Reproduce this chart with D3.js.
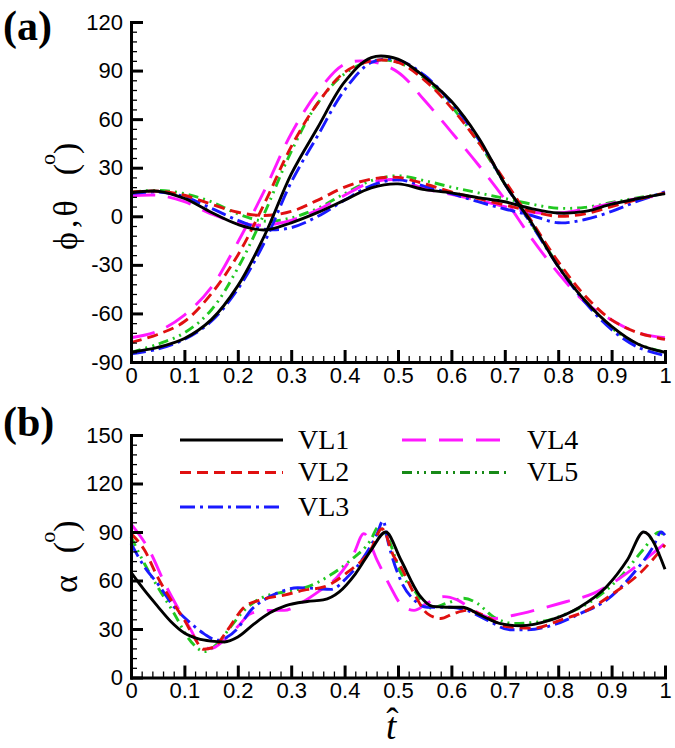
<!DOCTYPE html>
<html>
<head>
<meta charset="utf-8">
<script src="https://cdn.jsdelivr.net/npm/d3@7"></script>
<style>
  html, body { margin: 0; padding: 0; background: #fff; }
  svg { display: block; }
</style>
</head>
<body>
<svg id="chart" width="675" height="748"></svg>
<script>
// ---------------- DATA ----------------
const seriesNames = ["VL1", "VL2", "VL3", "VL4", "VL5"];

const tTop = [0,0.05,0.1,0.15,0.2,0.25,0.3,0.35,0.4,0.45,0.5,0.55,0.6,0.65,0.7,0.75,0.8,0.85,0.9,0.95,1];

// phi (large amplitude) curves, panel (a)
const phiVL1 = [-84,-81,-75.5,-64,-43,-12,26,55,83,98,97,86,71,49,20,-4,-31,-52,-68,-79,-84];
const phiVL2 = [-78,-73,-65,-48,-24,8,43,70,89,96,95,84,67,46,22,-3,-28,-49,-64,-72,-76];
const phiVL3 = [-85,-82,-76,-65,-45,-16,21,50,78,95,96.5,87,70,48,20,-5,-31,-53,-70,-81,-86];
const phiVL4 = [-75,-71,-61,-44,-16,16,51,77,94,95.5,89,71.5,52,32,10.5,-13.5,-35,-53,-64,-72,-75];
const phiVL5 = [-84,-79,-72,-58,-32,2,40,70,88,96,95,85,68,46,20,-5,-30,-52,-69,-79,-84];

// theta (small amplitude) curves, panel (a)
const thetaVL1 = [14.5,15.5,11,2.5,-5,-8.5,-4,2.4,10,17.6,20,16.5,14.5,11.5,9,4.7,2,3,7.5,11,14];
const thetaVL2 = [15,15.5,13,7.5,2.5,0.5,3,10,18,23,24,20,15,11,7,3,0,1.5,6,10.5,14.5];
const thetaVL3 = [14,15,12,5,-2.5,-8,-7,0,10,19,22.5,18.5,14,9,4.5,0.5,-4,-2,3,9.5,15];
const thetaVL4 = [12.5,13,9,1.5,-4,-5.5,-2.5,4,13,21,22.5,17,13.5,10,6,2.5,2,4.5,8,11,13];
const thetaVL5 = [15,16,14,9,1.5,-3,-1,5,14,22,25,22,18,14.5,11,7.5,5,5.5,8.5,11.5,14];

// alpha curves, panel (b): [t, alpha]
const alphaVL1 = [[0,65],[0.025,54],[0.05,44],[0.075,34.5],[0.1,27.5],[0.125,24],[0.15,22.5],[0.175,22],[0.2,25],[0.23,33],[0.26,40],[0.29,44.5],[0.33,47],[0.36,48],[0.39,53],[0.42,64],[0.45,79],[0.477,90],[0.505,73],[0.54,51],[0.565,44],[0.59,43.5],[0.62,43.5],[0.655,38.5],[0.69,33.5],[0.73,32],[0.785,35.5],[0.84,43.5],[0.89,56],[0.93,73],[0.96,90],[1,67]];
const alphaVL2 = [[0,89],[0.025,79],[0.05,62],[0.075,48],[0.1,35.5],[0.118,25],[0.136,17.5],[0.156,19],[0.18,29],[0.212,43.5],[0.243,48],[0.287,51],[0.324,54],[0.361,56],[0.405,65],[0.449,79],[0.47,92],[0.492,75],[0.505,68.5],[0.53,52],[0.555,39.5],[0.58,36.5],[0.604,39.5],[0.629,41.5],[0.66,38.5],[0.704,31.5],[0.754,30.5],[0.804,35.5],[0.854,41.5],[0.903,52],[0.953,64.5],[1,82]];
const alphaVL3 = [[0,83],[0.025,68.5],[0.05,58],[0.081,43.5],[0.112,33.5],[0.137,27],[0.162,23],[0.18,25],[0.2,30.5],[0.224,41.5],[0.249,48],[0.28,53],[0.312,55.5],[0.349,55],[0.374,54.5],[0.405,62],[0.436,74.5],[0.461,89],[0.472,97],[0.482,83],[0.505,60],[0.53,48],[0.555,43.5],[0.598,43.5],[0.629,41.5],[0.667,35.5],[0.71,29.5],[0.742,29.5],[0.791,32.5],[0.841,39.5],[0.891,48],[0.941,64.5],[0.978,81],[0.993,90],[1,88]];
const alphaVL4 = [[0,95],[0.037,77],[0.062,59],[0.087,43.5],[0.112,29.5],[0.131,19],[0.15,18],[0.174,23],[0.2,31.5],[0.224,39.5],[0.255,41.5],[0.287,41.5],[0.318,46],[0.355,54],[0.386,62],[0.417,76.5],[0.436,89],[0.461,72.5],[0.486,56],[0.505,45.5],[0.53,41.5],[0.555,46],[0.586,50],[0.611,48],[0.642,41.5],[0.679,36.5],[0.717,38.5],[0.766,42.5],[0.816,47],[0.866,52],[0.909,60],[0.953,70.5],[1,83]];
const alphaVL5 = [[0,87],[0.025,70.5],[0.05,56],[0.081,39.5],[0.106,25],[0.125,18],[0.137,16],[0.162,21],[0.187,31.5],[0.212,41.5],[0.243,49],[0.287,53],[0.33,56],[0.374,63.5],[0.411,72.5],[0.449,85],[0.463,93],[0.48,87],[0.505,65],[0.53,54],[0.561,43],[0.592,46],[0.623,49],[0.648,46],[0.679,37.5],[0.717,33.5],[0.766,34.5],[0.816,39.5],[0.866,48],[0.916,62],[0.959,79],[0.99,90],[1,87]];

// ticks
const xTicks = [0,0.1,0.2,0.3,0.4,0.5,0.6,0.7,0.8,0.9,1];
const xTickLabels = ["0","0.1","0.2","0.3","0.4","0.5","0.6","0.7","0.8","0.9","1"];
const yTicksTop = [-90,-60,-30,0,30,60,90,120];
const yTicksBot = [0,30,60,90,120,150];

// ---------------- STYLE ----------------
const colors = ["#000000", "#e01010", "#1a1aff", "#ff19ff", "#20c820"];
const legendColors = ["#000000", "#e01010", "#1a1aff", "#ff19ff", "#178a17"];
const dashes = ["none", "11,6", "15,5,3,5", "24,13", "10,5,2,5,2,5"];

const svg = d3.select("#chart");
const X0 = 131, X1 = 665;
const x = d3.scaleLinear().domain([0, 1]).range([X0, X1]);
const yTop = d3.scaleLinear().domain([-90, 120]).range([362, 22]);
const yBot = d3.scaleLinear().domain([0, 150]).range([677.5, 435]);

const tickFont = "'Liberation Sans', Arial, sans-serif";
const serif = "'Liberation Serif', 'Times New Roman', serif";

function drawAxes(yScale, yTicks, xAxisY) {
  const minorX = d3.range(0, 51).map(i => i / 50).filter(v => Math.round(v * 50) % 5 !== 0);
  svg.append("g").attr("transform", `translate(0,${xAxisY})`)
    .call(d3.axisBottom(x).tickValues(minorX).tickSize(-6).tickFormat(""))
    .call(g => g.select(".domain").remove())
    .call(g => g.selectAll("line").attr("stroke-width", 1.3));
  const [d0, d1] = yScale.domain();
  const minorY = d3.range(d0, d1 + 0.001, 6).filter(v => Math.abs(v % 30) > 0.01);
  svg.append("g").attr("transform", `translate(${X0},0)`)
    .call(d3.axisLeft(yScale).tickValues(minorY).tickSize(-6).tickFormat(""))
    .call(g => g.select(".domain").remove())
    .call(g => g.selectAll("line").attr("stroke-width", 1.3));
  svg.append("g").attr("transform", `translate(0,${xAxisY})`)
    .call(d3.axisBottom(x).tickValues(xTicks).tickSize(-12).tickSizeOuter(0).tickPadding(5)
      .tickFormat((d, i) => xTickLabels[i]))
    .call(g => g.select(".domain").attr("stroke-width", 3).attr("stroke-linecap", "square"))
    .call(g => g.selectAll("line").attr("stroke-width", 3))
    .call(g => g.selectAll("text").attr("font-family", tickFont).attr("font-size", 22).attr("fill", "#000"));
  svg.append("g").attr("transform", `translate(${X0},0)`)
    .call(d3.axisLeft(yScale).tickValues(yTicks).tickSize(-12).tickSizeOuter(0).tickPadding(8)
      .tickFormat(d => String(d)))
    .call(g => g.select(".domain").attr("stroke-width", 3).attr("stroke-linecap", "square"))
    .call(g => g.selectAll("line").attr("stroke-width", 3))
    .call(g => g.selectAll("text").attr("font-family", tickFont).attr("font-size", 22).attr("fill", "#000"));
}

// ---------- panel (a) ----------
const phiAll = [phiVL1, phiVL2, phiVL3, phiVL4, phiVL5];
const thetaAll = [thetaVL1, thetaVL2, thetaVL3, thetaVL4, thetaVL5];
const lineTop = d3.line().x(d => x(d[0])).y(d => yTop(d[1])).curve(d3.curveCatmullRom.alpha(0.5));
const gA = svg.append("g");
[4, 3, 2, 1, 0].forEach(i => {
  [thetaAll[i], phiAll[i]].forEach(arr => {
    gA.append("path")
      .datum(tTop.map((t, k) => [t, arr[k]]))
      .attr("d", lineTop)
      .attr("fill", "none")
      .attr("stroke", colors[i])
      .attr("stroke-width", 2.9)
      .attr("stroke-dasharray", dashes[i]);
  });
});
drawAxes(yTop, yTicksTop, 362);

// ---------- panel (b) ----------
const alphaAll = [alphaVL1, alphaVL2, alphaVL3, alphaVL4, alphaVL5];
const lineBot = d3.line().x(d => x(d[0])).y(d => yBot(d[1])).curve(d3.curveMonotoneX);
const gB = svg.append("g");
[4, 3, 2, 1, 0].forEach(i => {
  gB.append("path")
    .datum(alphaAll[i])
    .attr("d", lineBot)
    .attr("fill", "none")
    .attr("stroke", colors[i])
    .attr("stroke-width", 2.9)
    .attr("stroke-dasharray", dashes[i]);
});
drawAxes(yBot, yTicksBot, 677.5);

// ---------- legend ----------
const legendPos = [
  {x1: 180, x2: 283, y: 440, tx: 298},
  {x1: 180, x2: 283, y: 472.5, tx: 298},
  {x1: 180, x2: 283, y: 507, tx: 298},
  {x1: 402, x2: 507, y: 440, tx: 527},
  {x1: 402, x2: 507, y: 472.5, tx: 527}
];
seriesNames.forEach((name, i) => {
  const p = legendPos[i];
  svg.append("line").attr("x1", p.x1).attr("x2", p.x2).attr("y1", p.y).attr("y2", p.y)
    .attr("stroke", legendColors[i]).attr("stroke-width", 3).attr("stroke-dasharray", dashes[i]);
  svg.append("text").attr("x", p.tx).attr("y", p.y + 8.5)
    .attr("font-family", serif).attr("font-size", 28).text(name);
});

// ---------- labels ----------
svg.append("text").attr("x", 3).attr("y", 40).attr("font-family", serif)
  .attr("font-weight", "bold").attr("font-size", 42).text("(a)");
svg.append("text").attr("x", 3).attr("y", 436).attr("font-family", serif)
  .attr("font-weight", "bold").attr("font-size", 42).text("(b)");

// y label (a)
const ya = svg.append("text").attr("transform", "translate(77,250) rotate(-90)")
  .attr("font-family", serif).attr("font-size", 34);
ya.append("tspan").text("ϕ");
ya.append("tspan").attr("dx", 4).text(",");
ya.append("tspan").attr("dx", 3).text("θ");
ya.append("tspan").attr("dx", 25).text("(");
ya.append("tspan").attr("dx", -1).attr("dy", -22).attr("font-size", 22).text("o");
ya.append("tspan").attr("dy", 22).text(")");

// y label (b)
const yb = svg.append("text").attr("transform", "translate(77,593) rotate(-90)")
  .attr("font-family", serif).attr("font-size", 34);
yb.append("tspan").text("α");
yb.append("tspan").attr("dx", 22).text("(");
yb.append("tspan").attr("dx", -1).attr("dy", -22).attr("font-size", 22).text("o");
yb.append("tspan").attr("dy", 22).text(")");

// x title: t with hat, one text element
const xt = svg.append("text").attr("x", 386).attr("y", 739)
  .attr("font-family", serif).attr("font-size", 37);
xt.append("tspan").attr("font-style", "italic").text("t");
xt.append("tspan").attr("dx", -10).attr("dy", -5).text("ˆ");
</script>
</body>
</html>
